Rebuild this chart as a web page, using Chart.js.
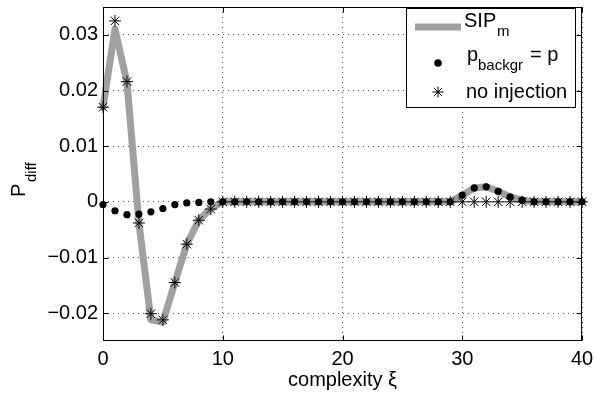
<!DOCTYPE html>
<html>
<head>
<meta charset="utf-8">
<script src="https://cdn.jsdelivr.net/npm/chart.js@4/dist/chart.umd.min.js"></script>
<style>
html,body{margin:0;padding:0;background:#fff;}
#wrap{position:relative;width:594px;height:398px;}
</style>
</head>
<body>
<div id="wrap"><canvas id="c" width="594" height="398"></canvas></div>
<script>
// ---- data ----
const complexity = [0,1,2,3,4,5,6,7,8,9,10,11,12,13,14,15,16,17,18,19,20,21,22,23,24,25,26,27,28,29,30,31,32,33,34,35,36,37,38,39,40];
const sipM = [0.0170,0.0310,0.0215,-0.0038,-0.0212,-0.0216,-0.0145,-0.0076,-0.0033,-0.0012,0,0,0,0,0,0,0,0,0,0,0,0,0,0,0,0,0,0,0,0,0.0012,0.0025,0.0027,0.0019,0.0009,0.0003,0,0,0,0,0];
const pBackgr = [-0.0005,-0.0016,-0.0023,-0.0022,-0.0018,-0.0012,-0.0005,-0.0002,-0.0001,0,0,0,0,0,0,0,0,0,0,0,0,0,0,0,0,0,0,0,0,0,0.0012,0.0025,0.0027,0.0019,0.0009,0.0003,0,0,0,0,0];
const noInjection = [0.0170,0.0325,0.0216,-0.0038,-0.0201,-0.0212,-0.0145,-0.0076,-0.0033,-0.0013,0,0,0,0,0,0,0,0,0,0,0,0,0,0,0,0,0,0,0,0,0,0,0,0,0,0,0,0,0,0,0];
const xTicks = [0,10,20,30,40];
const yTicks = [-0.02,-0.01,0,0.01,0.02,0.03];
const yTickLabels = ['\u22120.02','\u22120.01','0','0.01','0.02','0.03'];

const FONT = "'Liberation Sans', Arial, sans-serif";
const pts = arr => complexity.map((x,i)=>({x:x,y:arr[i]}));
const noPad = s => { s.paddingTop = 0; s.paddingBottom = 0; s.paddingLeft = 0; s.paddingRight = 0; };

const overlay = {
  id:'overlay',
  afterDraw(chart){
    const ctx = chart.ctx;
    const a = chart.chartArea;
    const xs = chart.scales.x, ys = chart.scales.y;
    const L = Math.round(a.left)+0.5, R = Math.round(a.right)-0.5, T = Math.round(a.top)+0.5, B = Math.round(a.bottom)-0.5;
    ctx.save();
    ctx.strokeStyle = '#000'; ctx.lineWidth = 1; ctx.setLineDash([]);
    ctx.beginPath();
    xTicks.forEach(v=>{
      const p = Math.round(xs.getPixelForValue(v))+0.5;
      ctx.moveTo(p,B); ctx.lineTo(p,B-5);
      ctx.moveTo(p,T); ctx.lineTo(p,T+5);
    });
    yTicks.forEach(v=>{
      const p = Math.round(ys.getPixelForValue(v))+0.5;
      ctx.moveTo(L,p); ctx.lineTo(L+5,p);
      ctx.moveTo(R,p); ctx.lineTo(R-5,p);
    });
    ctx.stroke();
    ctx.strokeRect(L,T,R-L,B-T);

    // legend box
    ctx.fillStyle = '#fff';
    ctx.fillRect(406,8,169,99);
    ctx.strokeRect(406.5,8.5,169,99);
    // SIP_m
    ctx.strokeStyle = '#a0a0a0'; ctx.lineWidth = 7; ctx.lineCap='butt';
    ctx.beginPath(); ctx.moveTo(415,27); ctx.lineTo(461,27); ctx.stroke();
    ctx.fillStyle = '#000';
    ctx.textBaseline = 'alphabetic'; ctx.textAlign = 'left';
    ctx.font = '20px ' + FONT;
    ctx.fillText('SIP', 464, 27);
    ctx.font = '15px ' + FONT;
    ctx.fillText('m', 497, 36);
    // p_backgr = p
    ctx.beginPath(); ctx.arc(438,63,3.8,0,Math.PI*2); ctx.fill();
    ctx.font = '20px ' + FONT;
    ctx.fillText('p', 467, 61);
    ctx.font = '15px ' + FONT;
    ctx.fillText('backgr', 478, 70);
    ctx.font = '20px ' + FONT;
    ctx.fillText('= p', 530, 61);
    // no injection
    ctx.strokeStyle = '#000'; ctx.lineWidth = 1;
    ctx.beginPath();
    const sx=438, sy=92, r=5.5, d=r*Math.SQRT1_2;
    ctx.moveTo(sx-r,sy); ctx.lineTo(sx+r,sy);
    ctx.moveTo(sx,sy-r); ctx.lineTo(sx,sy+r);
    ctx.moveTo(sx-d,sy-d); ctx.lineTo(sx+d,sy+d);
    ctx.moveTo(sx-d,sy+d); ctx.lineTo(sx+d,sy-d);
    ctx.stroke();
    ctx.font = '20px ' + FONT;
    ctx.fillText('no injection', 466, 98);

    // axis titles
    ctx.textAlign = 'center';
    ctx.fillText('complexity \u03BE', (a.left+a.right)/2, 386);
    ctx.translate(25, 197);
    ctx.rotate(-Math.PI/2);
    ctx.textAlign = 'left';
    ctx.font = '20px ' + FONT;
    ctx.fillText('P', 0, 0);
    ctx.font = '15px ' + FONT;
    ctx.fillText('diff', 15, 11);
    ctx.restore();
  }
};

new Chart(document.getElementById('c'), {
  type:'scatter',
  data:{
    datasets:[
      {label:'no injection', data:pts(noInjection), showLine:false, pointStyle:'star', pointRadius:6, borderColor:'#000', backgroundColor:'#000', pointBorderWidth:1, order:1, clip:false},
      {label:'p_backgr = p', data:pts(pBackgr), showLine:false, pointStyle:'circle', pointRadius:3.6, borderColor:'#000', backgroundColor:'#000', pointBorderWidth:0, order:2, clip:false},
      {label:'SIP_m', data:pts(sipM), showLine:true, pointRadius:0, borderColor:'#a0a0a0', borderWidth:7, tension:0, borderJoinStyle:'round', borderCapStyle:'round', order:3, clip:false}
    ]
  },
  options:{
    responsive:false, animation:false, devicePixelRatio:1,
    layout:{padding:{top:0,right:12,left:0,bottom:0}},
    plugins:{legend:{display:false}, tooltip:{enabled:false}},
    scales:{
      x:{type:'linear', min:0, max:40,
        afterBuildTicks: s => { s.ticks = xTicks.map(v=>({value:v})); },
        afterFit: s => { s.height = 57; noPad(s); },
        grid:{color:'#555', drawTicks:false, lineWidth:1},
        border:{display:false, dash:[1,4]},
        ticks:{padding:6, color:'#000', font:{family:FONT, size:20}, maxRotation:0, callback:v=>String(v)}
      },
      y:{type:'linear', min:-0.025, max:0.035,
        afterBuildTicks: s => { s.ticks = yTicks.map(v=>({value:v})); },
        afterFit: s => { s.width = 103; noPad(s); },
        grid:{color:'#555', drawTicks:false, lineWidth:1},
        border:{display:false, dash:[1,4]},
        ticks:{padding:5, color:'#000', font:{family:FONT, size:20}, callback:(v)=>{ const i = yTicks.findIndex(t=>Math.abs(t-v)<1e-9); return i>=0 ? yTickLabels[i] : ''; }}
      }
    }
  },
  plugins:[overlay]
});
</script>
</body>
</html>
